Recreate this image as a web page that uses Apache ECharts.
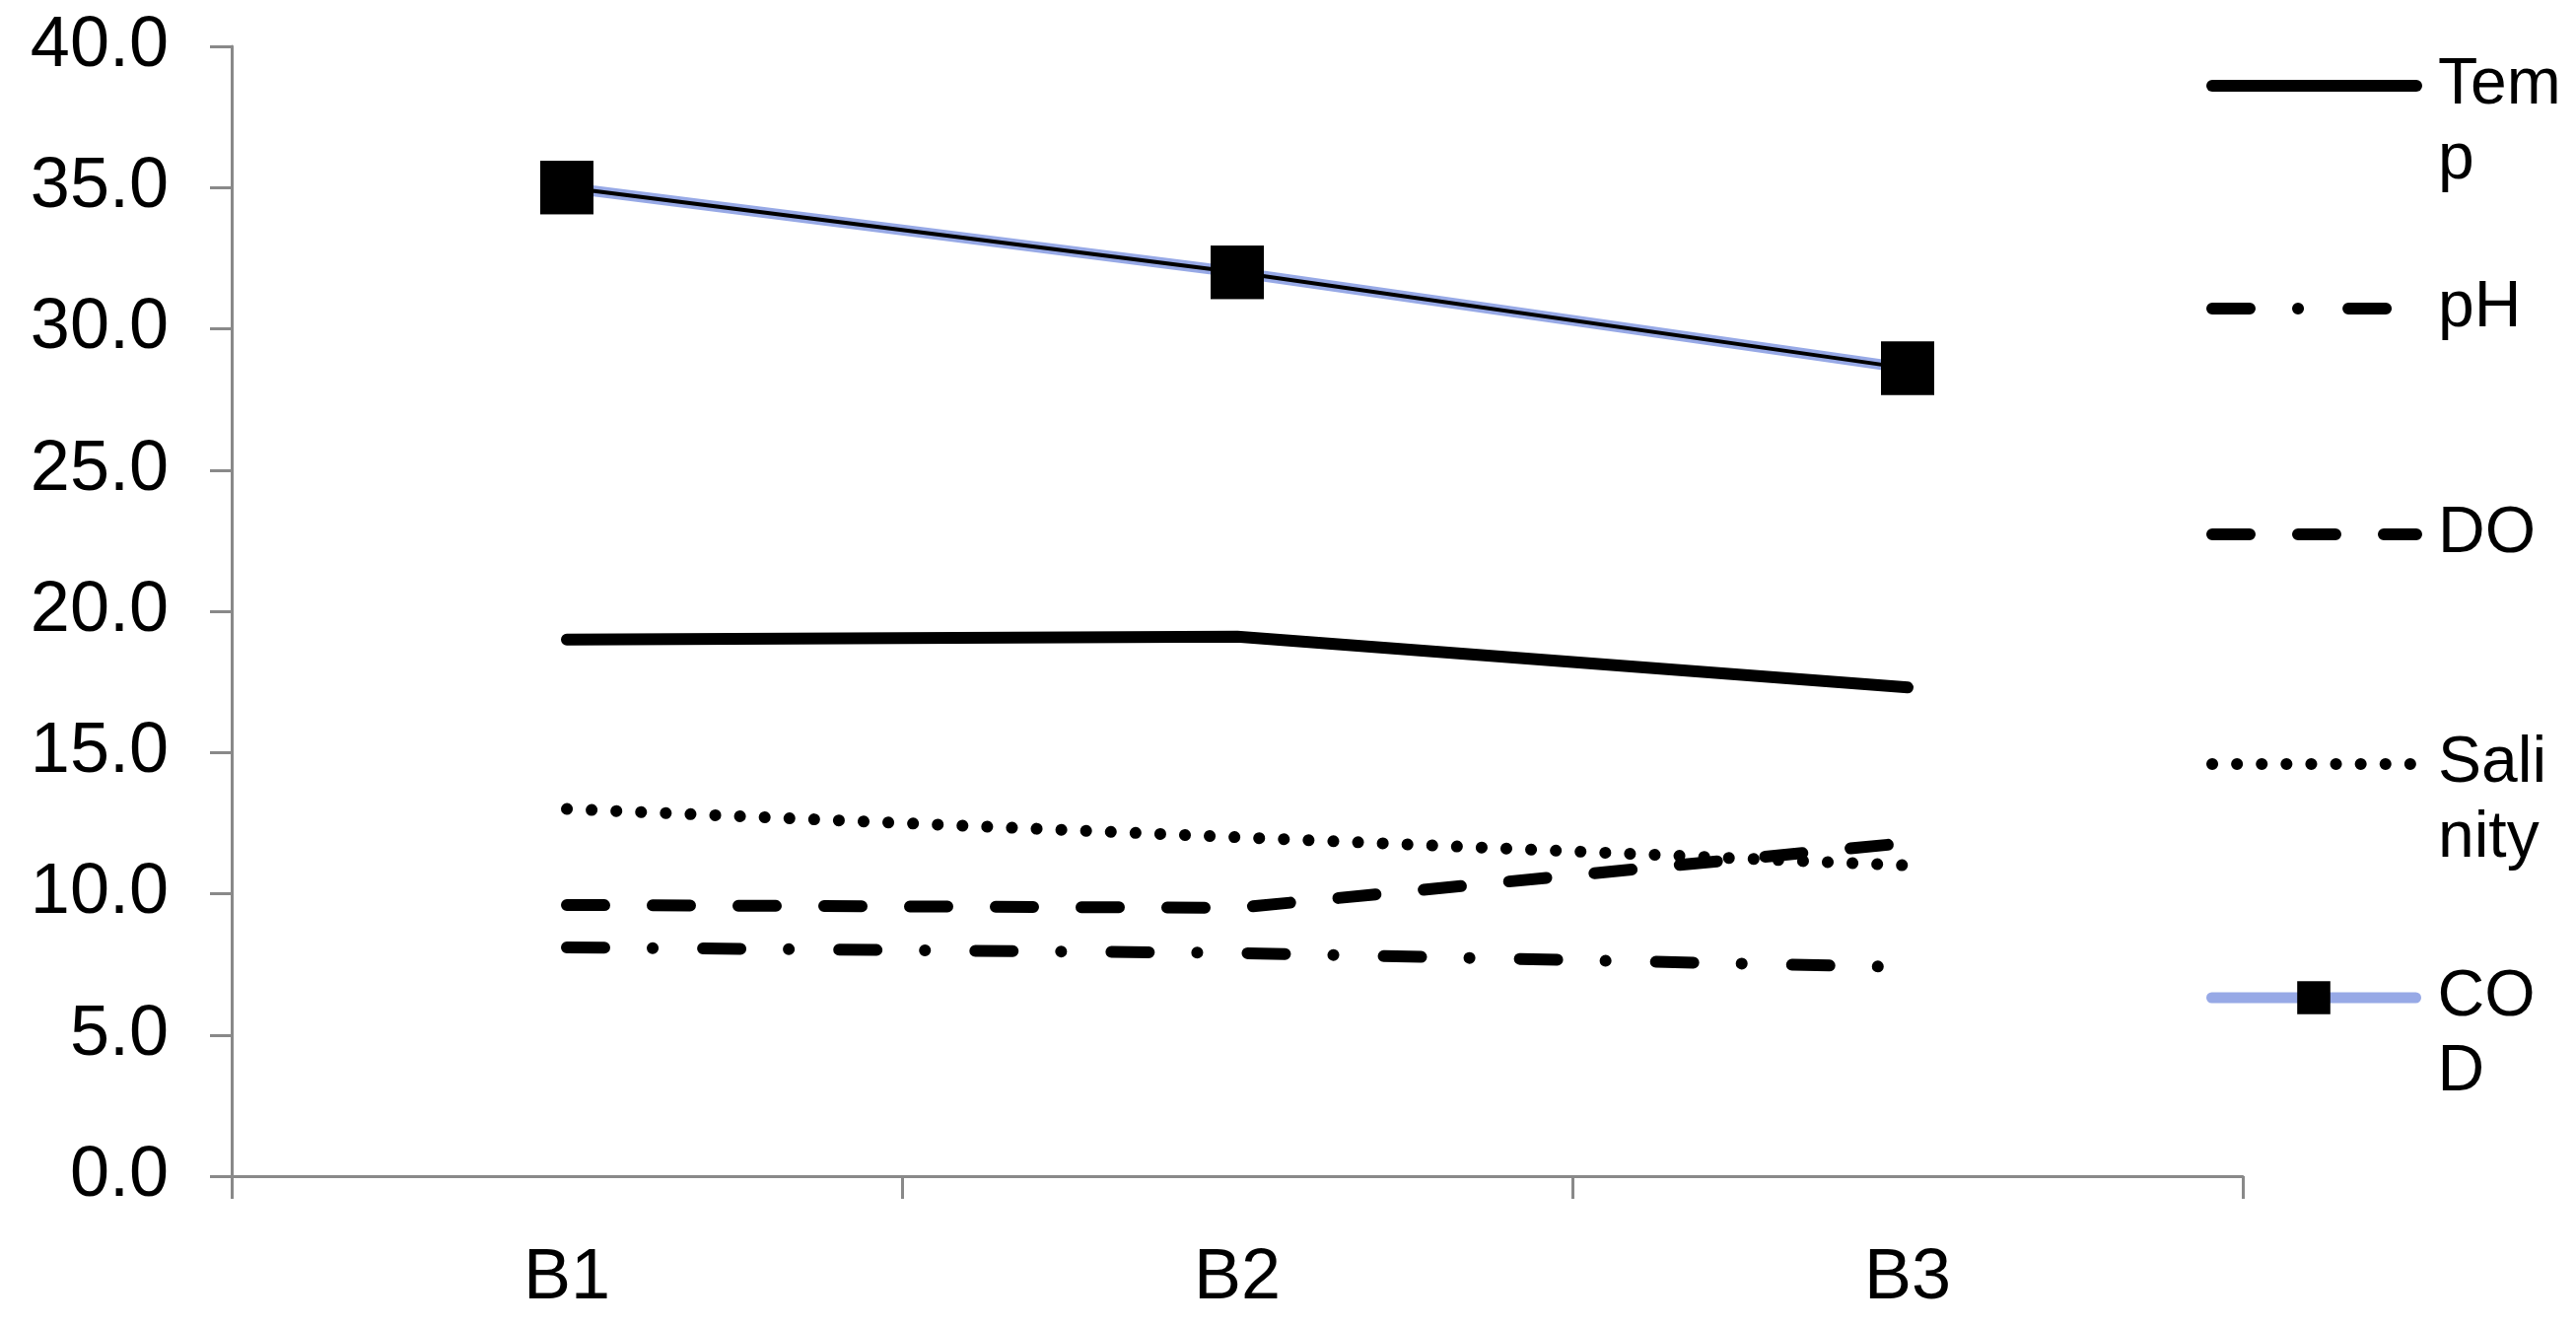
<!DOCTYPE html>
<html>
<head>
<meta charset="utf-8">
<script src="https://cdn.jsdelivr.net/npm/echarts@6/dist/echarts.min.js"></script>
<style>
  html, body { margin: 0; padding: 0; background: #fff; }
  #chart { width: 2613px; height: 1345px; }
</style>
</head>
<body>
<div id="chart"></div>
<script>
// ---- data ----
const categories = ['B1', 'B2', 'B3'];
const temp = [19.0, 19.1, 17.3];
const pH = [8.1, 7.9, 7.4];
const DO = [9.6, 9.5, 11.8];
const salinity = [13.0, 12.0, 11.0];
const COD = [35.0, 32.0, 28.6];
const seriesNames = ['Temp', 'pH', 'DO', 'Salinity', 'COD'];
const legendLabels = ['\nTem\np', 'pH', 'DO', '\nSali\nnity', '\nCO\nD'];
const yTicks = [0, 5, 10, 15, 20, 25, 30, 35, 40];

const FONT = '"Liberation Sans", Arial, sans-serif';
const AXIS_GRAY = '#898989';
const LW = 12;
const COD_BLUE = '#97A9E6';

const chart = echarts.init(document.getElementById('chart'), null, { renderer: 'canvas' });

// legend icon centres (y) and line heights
const legendCentres = [87, 313, 542, 775, 1012];
const LH = 76;
const legends = seriesNames.map((name, i) => {
  const nLines = legendLabels[i].split('\n').length;
  const boxH = Math.max(42, nLines * LH);
  const isCOD = name === 'COD';
  return {
    data: [name],
    orient: 'vertical',
    left: 2238,
    top: legendCentres[i] - boxH / 2,
    padding: 0,
    itemWidth: 207,
    itemHeight: 42,
    selectedMode: false,
    itemStyle: isCOD ? { color: '#000' } : { opacity: 0 },
    lineStyle: { width: isCOD ? 11 : LW, cap: 'round' },
    formatter: () => legendLabels[i],
    textStyle: {
      fontFamily: FONT,
      fontSize: 66,
      lineHeight: LH,
      color: '#000',
      padding: [0, 0, 0, 17]
    }
  };
});

const baseLine = (name, data, type, extra) => Object.assign({
  name: name,
  type: 'line',
  data: data,
  symbol: 'none',
  showSymbol: false,
  silent: true,
  lineStyle: { color: '#000', width: LW, type: type, cap: 'round', join: 'round' },
  itemStyle: { color: '#000' },
  z: 2
}, extra || {});

const option = {
  animation: false,
  backgroundColor: '#fff',
  legend: legends,
  grid: { left: 235, right: 338, top: 47, bottom: 152, containLabel: false },
  xAxis: {
    type: 'category',
    data: categories,
    boundaryGap: true,
    axisLine: { show: true, lineStyle: { color: AXIS_GRAY, width: 3 } },
    axisTick: { show: true, length: 23, lineStyle: { color: AXIS_GRAY, width: 3 } },
    axisLabel: { color: '#000', fontFamily: FONT, fontSize: 72, margin: 68 },
    splitLine: { show: false }
  },
  yAxis: {
    type: 'value',
    min: yTicks[0],
    max: yTicks[yTicks.length - 1],
    interval: yTicks[1] - yTicks[0],
    axisLine: { show: true, lineStyle: { color: AXIS_GRAY, width: 3 } },
    axisTick: { show: true, length: 22, lineStyle: { color: AXIS_GRAY, width: 3 } },
    axisLabel: {
      color: '#000', fontFamily: FONT, fontSize: 72, margin: 64,
      formatter: v => v.toFixed(1)
    },
    splitLine: { show: false }
  },
  series: [
    baseLine('Temp', temp, 'solid'),
    baseLine('pH', pH, [38, 49, 0.1, 51]),
    baseLine('DO', DO, [38, 49]),
    baseLine('Salinity', salinity, [0.1, 25]),
    {
      name: 'COD',
      type: 'line',
      data: COD,
      symbol: 'rect',
      symbolSize: 54,
      showSymbol: true,
      silent: true,
      lineStyle: { color: COD_BLUE, width: 11, cap: 'round' },
      itemStyle: { color: '#000' },
      z: 3
    },
    {
      name: 'COD_core',
      type: 'line',
      data: COD,
      symbol: 'rect',
      symbolSize: 54,
      showSymbol: true,
      silent: true,
      lineStyle: { color: '#000', width: 4 },
      itemStyle: { color: '#000' },
      z: 4
    }
  ]
};
chart.setOption(option);
</script>
</body>
</html>
